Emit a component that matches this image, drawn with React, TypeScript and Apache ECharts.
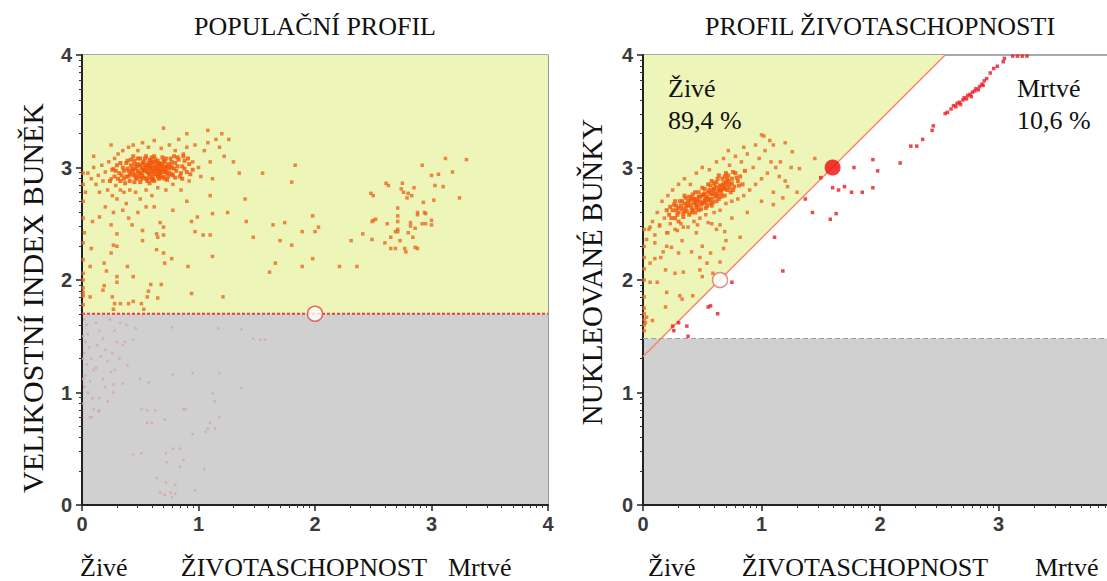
import React, { useEffect, useRef } from "react";
import * as echarts from "echarts";

// ---------- tick labels ----------
const majorTicks = [0, 1, 2, 3, 4];
const logOffsets = [0.301, 0.477, 0.602, 0.699, 0.778, 0.845, 0.903, 0.954];

// ---------- thresholds / gates ----------
const leftThreshold = 1.7;
const rightThreshold = 1.48;
const gateLine = [[0, 1.32], [2.55, 4]];
const leftMarker = [[2, 1.7]];
const rightOpenMarker = [[0.65, 2.0]];
const rightFilledMarker = [[1.6, 3.0]];
const yellowPolyRight = [[0, 1.48], [0.15, 1.48], [2.55, 4], [0, 4]];

// ---------- left panel: POPULAČNÍ PROFIL ----------
const leftCore = [
  [0.32,2.95],[0.35,3.0],[0.36,2.9],[0.38,3.04],[0.4,2.97],[0.41,2.88],[0.42,3.02],[0.44,2.93],[0.45,3.06],[0.46,2.99],
  [0.47,2.9],[0.48,3.03],[0.49,2.95],[0.5,3.08],[0.5,2.87],[0.51,3.0],[0.52,2.93],[0.53,3.05],[0.54,2.97],[0.55,2.9],
  [0.55,3.1],[0.56,3.02],[0.57,2.95],[0.58,2.86],[0.58,3.07],[0.59,2.99],[0.6,3.04],[0.6,2.92],[0.61,2.97],[0.62,3.1],
  [0.62,2.88],[0.63,3.01],[0.64,2.94],[0.65,3.06],[0.65,2.98],[0.66,2.9],[0.67,3.03],[0.68,2.96],[0.69,3.09],[0.7,2.92],
  [0.7,3.0],[0.71,3.05],[0.72,2.97],[0.73,2.89],[0.74,3.03],[0.75,2.95],[0.76,3.08],[0.77,3.0],[0.78,2.93],[0.8,3.04],
  [0.81,2.97],[0.83,3.07],[0.84,2.92],[0.86,3.01],[0.88,3.06],[0.9,2.96],[0.34,2.93],[0.39,2.99],[0.43,2.96],[0.47,3.01],
  [0.52,2.98],[0.56,2.96],[0.59,3.01],[0.63,2.97],[0.66,3.0],[0.69,2.98],[0.72,3.01],[0.75,2.99],[0.53,2.91],[0.57,3.04],
  [0.61,3.0],[0.64,3.03],[0.67,2.93],[0.49,2.92],[0.45,2.87],[0.42,3.07],[0.37,2.86],[0.79,3.1],[0.82,3.01],[0.85,2.95],
  [0.3,3.02],[0.33,2.88],[0.44,3.1],[0.51,2.95],[0.54,3.02],[0.58,2.94],[0.62,3.05],[0.68,3.01],[0.73,2.95],[0.77,3.05],
  [0.28,2.92],[0.26,2.98],[0.24,2.88],[0.46,2.94],[0.6,2.89],[0.71,2.9],[0.87,3.1],[0.92,3.03],[0.95,2.98],[0.4,2.92],
  [0.36,2.97],[0.39,3.06],[0.41,2.94],[0.43,2.99],[0.45,3.03],[0.46,2.91],[0.48,2.97],[0.5,3.02],[0.51,2.9],[0.53,2.98],
  [0.54,3.08],[0.56,2.88],[0.57,2.99],[0.59,3.06],[0.6,2.96],[0.61,2.9],[0.63,3.07],[0.64,2.99],[0.66,3.04],[0.67,2.97],
  [0.68,2.91],[0.7,3.06],[0.71,2.96],[0.73,3.0],[0.74,2.92],[0.76,3.02],[0.77,2.94],[0.79,2.99],[0.8,2.91],[0.82,3.09],
  [0.48,3.08],[0.52,3.04],[0.55,3.0],[0.58,3.02],[0.62,2.94],[0.65,2.92],[0.69,3.03],[0.72,3.08],[0.44,2.98],[0.38,2.92],
  [0.33,3.04],[0.31,2.9],[0.29,2.97],[0.86,2.9],[0.88,2.99],[0.91,3.08],[0.93,2.94],[0.57,2.91],[0.66,2.95],[0.6,3.09]
];
const leftHalo = [
  [0.05,2.95],[0.08,2.9],[0.1,3.0],[0.12,2.85],[0.14,2.93],[0.15,2.78],[0.17,3.02],[0.18,2.88],[0.2,2.96],[0.22,2.8],
  [0.23,3.05],[0.25,2.9],[0.26,2.75],[0.27,2.99],[0.28,3.08],[0.29,2.84],[0.3,2.72],[0.31,3.12],[0.33,2.8],[0.35,3.15],
  [0.36,2.78],[0.38,2.68],[0.4,3.18],[0.41,2.8],[0.44,3.2],[0.46,2.78],[0.48,3.15],[0.5,2.72],[0.52,3.22],[0.55,2.8],
  [0.57,3.18],[0.6,2.75],[0.62,3.24],[0.65,2.82],[0.68,3.17],[0.7,3.35],[0.72,2.8],[0.75,3.2],[0.78,2.85],[0.8,3.15],
  [0.83,3.25],[0.85,2.8],[0.87,3.12],[0.9,3.18],[0.92,2.88],[0.95,3.05],[0.97,3.2],[1.0,3.0],[1.02,2.92],[1.05,3.15],
  [1.08,3.22],[1.1,3.05],[1.12,2.9],[1.15,3.25],[1.18,3.18],[1.2,3.3],[1.22,3.1],[1.26,3.25],[1.3,3.05],[1.35,2.95],
  [0.9,3.3],[1.08,3.33],[0.25,3.2],[0.1,3.1],[0.35,2.62],[0.48,2.6],[0.62,2.65],[0.78,2.62],[0.9,2.7],[1.1,2.75],
  [0.55,2.65],[0.4,2.55],[0.2,2.65],[0.03,2.78],[0.01,2.95],[0.01,2.85],[0.01,2.7],[0.01,2.55]
];
const leftScatter = [
  [0.15,2.56],[0.27,2.6],[0.09,2.52],[0.25,2.49],[0.43,2.49],[0.52,2.44],[0.67,2.51],[0.7,2.47],[0.3,2.41],[0.52,2.35],
  [0.65,2.38],[0.64,2.41],[0.7,2.4],[0.3,2.3],[0.27,2.31],[0.25,2.24],[0.08,2.28],[0.64,2.27],[0.7,2.24],[0.77,2.19],
  [0.71,2.15],[0.19,2.15],[0.21,2.08],[0.07,2.12],[0.39,2.12],[0.44,2.03],[0.3,2.03],[0.3,1.98],[0.59,1.96],[0.68,1.96],
  [0.19,1.95],[0.18,1.91],[0.57,1.9],[0.56,1.85],[0.65,1.84],[0.26,1.85],[0.07,1.85],[0.44,1.81],[0.33,1.79],[0.28,1.79],
  [0.4,1.79],[0.51,1.79],[0.53,1.74],[0.27,1.74],[0.94,1.88],[1.21,1.85],[0.91,2.12],[0.97,2.43],[1.12,2.21],[1.41,2.52],
  [1.47,2.38],[1.64,2.49],[1.61,2.07],[1.66,2.15],[1.12,2.59],[1.04,2.4],[1.1,2.4],[0.94,2.52],[0.99,2.56],
  [0.01,2.33],[0.01,2.18],[0.01,2.06],[0.01,2.0],[0.01,1.93],[0.01,1.89],[0.01,1.86],[0.01,1.78],[0.02,2.42],
  [1.83,3.02],[1.8,2.87],[1.98,2.57],[2.03,2.47],[1.74,2.51],[1.89,2.43],[1.7,2.35],[1.8,2.31],[1.98,2.19],[2.21,2.12],
  [2.36,2.12],[1.89,2.12],[2.0,2.43],[2.31,2.35],[2.41,2.41],[2.49,2.36],[1.55,2.95],[1.4,2.72],[1.25,2.6]
];
const leftRightCluster = [
  [3.12,3.08],[3.3,3.07],[2.92,3.02],[3.0,2.93],[3.06,2.94],[3.18,2.96],[3.24,2.73],[3.03,2.84],[3.1,2.83],[3.02,2.71],
  [2.85,2.82],[2.76,2.78],[2.74,2.81],[2.75,2.86],[2.8,2.77],[2.83,2.75],[2.79,2.73],[2.61,2.86],[2.63,2.84],[2.48,2.77],
  [2.5,2.75],[2.93,2.69],[2.71,2.64],[2.88,2.6],[2.94,2.6],[2.95,2.59],[2.88,2.58],[2.71,2.57],[2.5,2.53],[2.52,2.54],
  [2.71,2.52],[2.82,2.51],[2.82,2.48],[2.62,2.5],[2.92,2.5],[2.95,2.5],[3.0,2.53],[3.0,2.49],[2.86,2.46],[2.71,2.45],
  [2.71,2.43],[2.69,2.43],[2.8,2.42],[2.65,2.38],[2.73,2.35],[2.84,2.38],[2.6,2.33],[2.65,2.28],[2.69,2.28],[2.77,2.28],
  [2.86,2.29],[2.88,2.28],[2.78,2.25],[2.49,2.52]
];
const leftGray = [
  [0.02,1.65],[0.04,1.6],[0.05,1.52],[0.03,1.45],[0.06,1.4],[0.02,1.35],[0.08,1.3],[0.04,1.25],[0.1,1.2],[0.03,1.15],
  [0.07,1.1],[0.02,1.05],[0.05,1.0],[0.09,0.95],[0.12,1.62],[0.15,1.55],[0.18,1.48],[0.13,1.42],[0.2,1.38],[0.16,1.32],
  [0.22,1.28],[0.12,1.22],[0.25,1.18],[0.18,1.12],[0.28,1.55],[0.3,1.45],[0.26,1.35],[0.32,1.3],[0.28,1.2],[0.35,1.42],
  [0.38,1.6],[0.33,1.62],[0.24,1.65],[0.2,1.05],[0.27,1.0],[0.15,0.95],[0.1,0.85],[0.35,1.08],[0.22,0.92],[0.08,0.78],
  [1.37,1.56],[1.47,1.48],[1.53,1.47],[1.57,1.47],[1.37,1.04],[0.57,1.09],[0.5,1.12],[0.95,1.17],[0.78,1.16],
  [0.51,0.85],[0.56,0.84],[0.63,0.84],[0.56,0.73],[0.6,0.73],[0.71,0.76],[0.95,0.63],[1.1,0.73],[1.08,0.68],[1.14,0.68],
  [1.06,0.65],[1.18,0.78],[1.14,0.92],[1.12,0.99],[0.87,0.85],[0.89,0.85],[0.44,0.45],[0.51,0.46],[0.72,0.46],[0.73,0.38],
  [0.78,0.5],[0.84,0.5],[0.87,0.4],[0.84,0.34],[1.05,0.32],[0.97,0.13],[0.67,0.11],[0.71,0.09],[0.76,0.11],[0.8,0.1],
  [0.77,0.07],[0.72,0.2],[0.8,0.18],[0.64,0.24],[0.15,0.84],[0.07,0.78],[0.14,0.83],[0.27,1.07],[0.39,1.24],[0.44,1.47],
  [0.37,1.45],[0.77,1.58],[1.17,1.57],[0.46,1.57],[1.18,1.17],[0.01,1.5],[0.01,1.3],[0.01,1.12],[0.01,0.9]
];

// ---------- right panel: PROFIL ŽIVOTASCHOPNOSTI ----------
const rightCore = [
  [0.22,2.58],[0.25,2.62],[0.27,2.55],[0.28,2.66],[0.3,2.6],[0.31,2.7],[0.33,2.63],[0.34,2.56],[0.35,2.68],[0.36,2.73],
  [0.37,2.61],[0.38,2.66],[0.39,2.58],[0.4,2.71],[0.41,2.64],[0.42,2.76],[0.43,2.68],[0.44,2.6],[0.45,2.72],[0.46,2.66],
  [0.47,2.78],[0.48,2.7],[0.49,2.63],[0.5,2.75],[0.51,2.69],[0.52,2.81],[0.53,2.73],[0.54,2.66],[0.55,2.78],[0.56,2.71],
  [0.57,2.84],[0.58,2.76],[0.59,2.69],[0.6,2.81],[0.61,2.74],[0.62,2.87],[0.63,2.79],[0.64,2.72],[0.65,2.84],[0.66,2.77],
  [0.67,2.9],[0.68,2.82],[0.69,2.75],[0.7,2.87],[0.71,2.8],[0.72,2.93],[0.73,2.85],[0.74,2.78],[0.75,2.9],[0.77,2.83],
  [0.78,2.95],[0.8,2.88],[0.82,2.92],[0.84,2.85],[0.86,2.97],[0.32,2.66],[0.36,2.64],[0.4,2.67],[0.44,2.7],[0.48,2.74],
  [0.52,2.77],[0.56,2.8],[0.6,2.77],[0.64,2.82],[0.68,2.86],[0.72,2.88],[0.46,2.7],[0.5,2.68],[0.54,2.74],[0.58,2.72],
  [0.62,2.76],[0.66,2.8],[0.7,2.84],[0.38,2.7],[0.42,2.62],[0.29,2.58],[0.26,2.67],[0.34,2.59],[0.55,2.85],[0.63,2.9],
  [0.24,2.55],[0.2,2.62],[0.3,2.52],[0.45,2.64],[0.52,2.71],[0.6,2.86],[0.69,2.92],[0.76,2.96],[0.58,2.66],[0.41,2.73],
  [0.3,2.64],[0.33,2.7],[0.35,2.61],[0.37,2.67],[0.39,2.74],[0.41,2.6],[0.43,2.72],[0.45,2.67],[0.47,2.74],[0.49,2.67],
  [0.51,2.76],[0.53,2.69],[0.55,2.72],[0.57,2.77],[0.59,2.8],[0.61,2.83],[0.63,2.75],[0.65,2.8],[0.67,2.84],[0.69,2.81],
  [0.71,2.9],[0.73,2.82],[0.75,2.86],[0.79,2.91],[0.81,2.84],[0.47,2.62],[0.53,2.64],[0.57,2.68],[0.62,2.7],[0.66,2.74],
  [0.28,2.62],[0.23,2.65],[0.27,2.7],[0.35,2.75],[0.44,2.78],[0.5,2.82],[0.58,2.88],[0.64,2.93],[0.7,2.95],[0.76,2.8]
];
const rightHalo = [
  [0.05,2.45],[0.08,2.52],[0.1,2.4],[0.12,2.6],[0.14,2.48],[0.16,2.7],[0.18,2.55],[0.2,2.42],[0.21,2.75],[0.23,2.5],
  [0.25,2.8],[0.27,2.45],[0.3,2.85],[0.32,2.5],[0.35,2.9],[0.38,2.47],[0.4,2.85],[0.43,2.52],[0.45,2.95],[0.48,2.55],
  [0.5,3.0],[0.53,2.58],[0.56,2.98],[0.6,2.6],[0.62,3.05],[0.65,2.62],[0.68,3.08],[0.7,2.68],[0.73,3.02],[0.75,2.7],
  [0.78,3.1],[0.8,2.72],[0.83,3.05],[0.85,2.75],[0.88,3.12],[0.9,2.8],[0.93,3.0],[0.95,2.85],[0.98,3.08],[1.0,2.9],
  [1.03,3.15],[1.05,2.95],[1.08,3.05],[1.12,3.0],[1.15,2.92],[1.2,2.88],[1.1,3.2],[0.95,3.2],[0.85,3.18],[0.72,3.15],
  [1.02,3.28],[0.58,2.5],[0.45,2.42],[0.33,2.35],[0.2,2.3],[0.15,2.2],[0.62,2.45],[0.75,2.55],[0.88,2.6],[1.0,2.7],
  [1.1,2.78],[0.7,2.35],[0.5,2.3],[1.25,3.0],[1.45,3.08],[1.32,2.99],[1.26,3.14],[1.2,3.22],[1.0,3.29],[1.07,3.24],
  [1.16,3.05],[1.22,2.83],[1.3,2.78],[1.1,2.67],[1.18,2.73]
];
const rightScatter = [
  [0.06,2.47],[0.14,2.49],[0.21,2.42],[0.29,2.44],[0.34,2.47],[0.46,2.49],[0.55,2.51],[0.65,2.49],[0.69,2.43],[0.82,2.38],
  [0.03,2.36],[0.1,2.33],[0.17,2.25],[0.24,2.29],[0.3,2.24],[0.41,2.25],[0.48,2.2],[0.57,2.24],[0.65,2.16],[0.68,2.28],
  [0.06,2.15],[0.1,2.19],[0.19,2.09],[0.27,2.06],[0.34,2.07],[0.48,2.09],[0.5,2.03],[0.54,2.15],[0.59,2.06],
  [0.06,1.98],[0.12,1.98],[0.2,1.89],[0.31,1.86],[0.33,1.83],[0.42,1.86],[0.19,1.76],[0.03,1.67],[0.02,1.62],[0.08,1.64],
  [0.01,1.55],[0.01,1.6],[0.01,1.65],[0.01,1.7],[0.01,1.75],[0.01,1.85],[0.01,2.0],[0.01,2.1],[0.01,2.2],[0.01,2.3],[0.01,2.45]
];
const rightDead = [
  [2.17,3.04],[2.26,3.19],[2.31,3.19],[2.36,3.25],[2.44,3.33],[2.45,3.37],[2.55,3.48],[2.57,3.49],
  [2.6,3.52],[2.62,3.55],[2.64,3.54],[2.65,3.57],[2.67,3.58],[2.68,3.56],[2.7,3.6],[2.71,3.62],[2.73,3.61],[2.74,3.64],
  [2.76,3.65],[2.77,3.63],[2.78,3.67],[2.8,3.68],[2.81,3.7],[2.83,3.69],[2.84,3.72],[2.86,3.74],[2.87,3.73],[2.88,3.77],
  [2.9,3.79],[2.93,3.84],[2.96,3.88],[2.99,3.9],[3.04,3.94],[3.05,3.97],[3.12,3.99],[3.16,3.99],[3.2,3.99],[3.24,3.99],
  [1.94,3.07],[1.98,2.97],[1.78,3.0],[1.6,2.82],[1.65,2.8],[1.7,2.83],[1.76,2.78],[1.85,2.78],[1.94,2.82],
  [1.37,2.72],[1.43,2.6],[1.63,2.59],[1.58,2.54],[1.5,2.91],
  [1.11,2.38],[1.18,2.08],[0.75,1.98],[0.57,1.77],[0.55,1.76],[0.63,1.7],[0.25,1.59],[0.37,1.59],[0.26,1.55],[0.38,1.5],[0.3,1.62]
];

const minorTicks: number[] = [];
for (let d = 0; d < 4; d++) logOffsets.forEach((o) => minorTicks.push(d + o));

const SERIF = "'Liberation Serif', 'Times New Roman', serif";
const SANS = "'Liberation Sans', Arial, sans-serif";
const YELLOW = "#eef5b8";
const GRAY = "#d0d0d0";
const ORANGE = "#f25508";
const ORANGE2 = "#e86a22";
const PINK = "#d8a4a4";
const RED = "#ec1820";

const GRIDS = [
  { left: 82, top: 55, width: 466, height: 450 },
  { left: 643, top: 55, width: 474, height: 450 },
];

const tickLabel = (margin: number) => ({
  show: true, fontFamily: SANS, fontSize: 20, fontWeight: "bold", color: "#3a3a3a", margin, customValues: majorTicks,
});

function mainX(gi: number) {
  return {
    type: "value", gridIndex: gi, min: 0, max: 4, interval: 1,
    axisLine: { show: true, lineStyle: { color: "#222", width: 2 } },
    axisTick: { show: true, length: 6, lineStyle: { color: "#222", width: 1.5 } },
    axisLabel: tickLabel(9),
    splitLine: { show: false },
  };
}
function minorX(gi: number) {
  return {
    type: "value", gridIndex: gi, min: 0, max: 4, position: "bottom",
    axisLine: { show: false },
    axisTick: { show: true, length: 3, customValues: minorTicks, lineStyle: { color: "#333" } },
    axisLabel: { show: false },
    splitLine: { show: false },
  };
}
function mainY(gi: number) {
  return {
    type: "value", gridIndex: gi, min: 0, max: 4, interval: 1,
    axisLine: { show: true, lineStyle: { color: "#222", width: 2 } },
    axisTick: { show: true, length: 6, lineStyle: { color: "#222", width: 1.5 } },
    axisLabel: tickLabel(10),
    splitLine: { show: false },
  };
}
function minorY(gi: number) {
  return {
    type: "value", gridIndex: gi, min: 0, max: 4, position: "left",
    axisLine: { show: false },
    axisTick: { show: true, length: 3, customValues: minorTicks, lineStyle: { color: "#333" } },
    axisLabel: { show: false },
    splitLine: { show: false },
  };
}

function poly(gi: number, pts: number[][], color: string) {
  return {
    type: "custom", xAxisIndex: gi, yAxisIndex: gi, silent: true, z: 0, clip: true,
    data: [[0, 0]],
    renderItem: (_p: any, api: any) => ({
      type: "polygon",
      shape: { points: pts.map((p) => api.coord(p)) },
      style: { fill: color },
    }),
  };
}
function dots(gi: number, data: number[][], color: string, size: number, z = 3) {
  return {
    type: "scatter", xAxisIndex: gi, yAxisIndex: gi, data, symbol: "rect", symbolSize: size,
    itemStyle: { color }, silent: true, z,
  };
}
function hline(gi: number, y: number, color: string, type: any, width: number) {
  return {
    type: "line", xAxisIndex: gi, yAxisIndex: gi, data: [[0, y], [4, y]], symbol: "none",
    lineStyle: { color, type, width }, silent: true, z: 2,
  };
}

const txt = (x: number, y: number, text: string, size: number, align = "left", rotation = 0) => ({
  type: "text", x, y, rotation, z: 100,
  style: { text, fontFamily: SERIF, fontSize: size, fill: "#111", align, verticalAlign: "middle" },
});

export default function App() {
  const ref = useRef<HTMLDivElement>(null);
  useEffect(() => {
    document.body.style.margin = "0";
    const chart = echarts.init(ref.current!, null, { renderer: "svg" });
    chart.setOption({
      animation: false,
      backgroundColor: "#ffffff",
      grid: GRIDS.map((g) => ({
        ...g, show: true, borderColor: "#555", borderWidth: 1.2, backgroundColor: "transparent",
        outerBoundsMode: "none", containLabel: false,
      })),
      xAxis: [mainX(0), mainX(1), minorX(0), minorX(1)],
      yAxis: [mainY(0), mainY(1), minorY(0), minorY(1)],
      series: [
        poly(0, [[0, leftThreshold], [4, leftThreshold], [4, 4], [0, 4]], YELLOW),
        poly(0, [[0, 0], [4, 0], [4, leftThreshold], [0, leftThreshold]], GRAY),
        poly(1, yellowPolyRight, YELLOW),
        poly(1, [[0, 0], [4, 0], [4, rightThreshold], [0, rightThreshold]], GRAY),
        hline(0, leftThreshold, "#ee3b3b", [3, 2], 2),
        hline(1, rightThreshold, "#a0a0a0", [5, 3], 1.2),
        {
          type: "line", xAxisIndex: 1, yAxisIndex: 1, data: gateLine, symbol: "none",
          lineStyle: { color: "#f08870", width: 1.5 }, silent: true, z: 2,
        },
        dots(0, leftGray, PINK, 2.5),
        dots(0, leftHalo, ORANGE2, 3.5),
        dots(0, leftScatter, ORANGE2, 3.5),
        dots(0, leftRightCluster, ORANGE2, 3.5),
        dots(0, leftCore, ORANGE, 4),
        dots(1, rightHalo, ORANGE2, 3.5),
        dots(1, rightScatter, ORANGE2, 3.5),
        dots(1, rightCore, ORANGE, 4),
        dots(1, rightDead, RED, 3.5),
        {
          type: "scatter", xAxisIndex: 0, yAxisIndex: 0, data: leftMarker, symbol: "circle", symbolSize: 15,
          itemStyle: { color: "#fff", borderColor: "#e04848", borderWidth: 1.5 }, z: 5, silent: true,
        },
        {
          type: "scatter", xAxisIndex: 1, yAxisIndex: 1, data: rightOpenMarker, symbol: "circle", symbolSize: 15,
          itemStyle: { color: "#fff", borderColor: "#e07070", borderWidth: 1.5 }, z: 5, silent: true,
        },
        {
          type: "scatter", xAxisIndex: 1, yAxisIndex: 1, data: rightFilledMarker, symbol: "circle", symbolSize: 16,
          itemStyle: { color: "#f00a0a" }, z: 5, silent: true,
        },
      ],
      graphic: [
        txt(315, 26, "POPULAČNÍ PROFIL", 26, "center"),
        txt(880, 26, "PROFIL ŽIVOTASCHOPNOSTI", 26, "center"),
        txt(32, 298, "VELIKOSTNÍ INDEX BUNĚK", 30, "center", Math.PI / 2),
        txt(592, 272, "NUKLEOVANÉ BUŇKY", 29, "center", Math.PI / 2),
        txt(80, 567, "Živé", 26),
        txt(304, 567, "ŽIVOTASCHOPNOST", 26, "center"),
        txt(448, 567, "Mrtvé", 26),
        txt(648, 567, "Živé", 26),
        txt(865, 567, "ŽIVOTASCHOPNOST", 26, "center"),
        txt(1035, 567, "Mrtvé", 26),
        txt(668, 88, "Živé", 26),
        txt(668, 120, "89,4 %", 26),
        txt(1017, 88, "Mrtvé", 26),
        txt(1017, 120, "10,6 %", 26),
      ],
    });
    return () => chart.dispose();
  }, []);
  return <div ref={ref} style={{ width: 1107, height: 581 }} />;
}
